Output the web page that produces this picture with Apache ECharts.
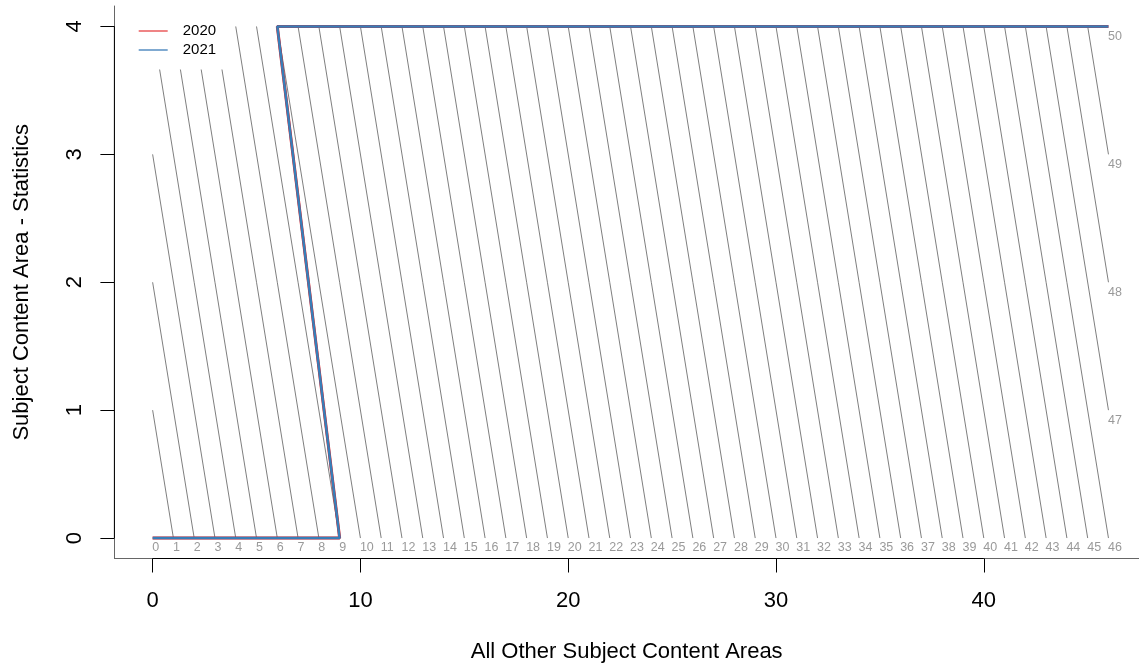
<!DOCTYPE html>
<html>
<head>
<meta charset="utf-8">
<script src="https://cdn.jsdelivr.net/npm/echarts@6/dist/echarts.min.js"></script>
<style>
html,body{margin:0;padding:0;background:#fff;}
#chart{width:1139px;height:668px;}
</style>
</head>
<body>
<div id="chart"></div>
<script>
// ---- data ----
const seriesNames = ['2020', '2021'];
const path2020X = [0, 9, 6, 46];
const path2020Y = [0, 0, 4, 4];
const path2021X = [0, 9, 6, 46];
const path2021Y = [0, 0, 4, 4];
// constant-total reference lines (x + y = total)
const isoTotals = [0,1,2,3,4,5,6,7,8,9,10,11,12,13,14,15,16,17,18,19,20,21,22,23,24,25,26,27,28,29,30,31,32,33,34,35,36,37,38,39,40,41,42,43,44,45,46,47,48,49,50];
const xLimits = [0, 46];
const yLimits = [0, 4];
const xTicks = [0, 10, 20, 30, 40];
const yTicks = [0, 1, 2, 3, 4];
const xTitle = 'All Other Subject Content Areas';
const yTitle = 'Subject Content Area - Statistics';

// ---- build ----
const FONT = "'Liberation Sans', Arial, Helvetica, sans-serif";
const xPad = (xLimits[1] - xLimits[0]) * 0.04;
const yPad = (yLimits[1] - yLimits[0]) * 0.04;
const xMin = xLimits[0] - xPad;
const xMax = xLimits[1] + 1.47;   // plot region runs past the page edge; cut at the page
const yMin = yLimits[0] - yPad, yMax = yLimits[1] + yPad;

const isoLines = [];
const isoLabels = [];
isoTotals.forEach(k => {
  const xa = Math.max(xLimits[0], k - yLimits[1]);
  const xb = Math.min(xLimits[1], k - yLimits[0]);
  const p0 = [xa, k - xa];
  const p1 = [xb, k - xb];
  if (k > 0) isoLines.push({coords: [p0, p1]});
  isoLabels.push([p1[0], p1[1], k]);
});

const zip = (xs, ys) => xs.map((x, i) => [x, ys[i]]);
const hiddenSymbol = {color: 'rgba(0,0,0,0)', borderColor: 'rgba(0,0,0,0)', borderWidth: 0, opacity: 0};

const chart = echarts.init(document.getElementById('chart'), null, {renderer: 'canvas'});
chart.setOption({
  animation: false,
  backgroundColor: '#ffffff',
  textStyle: {fontFamily: FONT},
  grid: {left: 114.4, top: 6, width: 1024.6, height: 552.5, containLabel: false},
  legend: {
    data: [
      {name: seriesNames[0], lineStyle: {color: '#E84F51', width: 1.4}, itemStyle: hiddenSymbol},
      {name: seriesNames[1], lineStyle: {color: '#4A86BE', width: 1.4}, itemStyle: hiddenSymbol}
    ],
    orient: 'vertical',
    left: 128, top: 15.5,
    padding: [8, 10, 12, 10],
    backgroundColor: '#ffffff',
    itemWidth: 29, itemHeight: 14, itemGap: 4,
    textStyle: {fontSize: 15, lineHeight: 15, color: '#000', fontFamily: FONT, padding: [0, 0, 0, 10]},
    selectedMode: false
  },
  xAxis: {
    type: 'value', min: xMin, max: xMax,
    axisLine: {show: true, onZero: false, lineStyle: {color: '#666', width: 1}},
    axisTick: {show: true, length: 14, customValues: xTicks, lineStyle: {color: '#000'}},
    axisLabel: {customValues: xTicks, fontSize: 22, color: '#000', margin: 31, fontFamily: FONT},
    splitLine: {show: false},
    name: xTitle, nameLocation: 'middle', nameGap: 82,
    nameTextStyle: {fontSize: 22, color: '#000', fontFamily: FONT}
  },
  yAxis: {
    type: 'value', min: yMin, max: yMax,
    axisLine: {show: true, onZero: false, lineStyle: {color: '#666', width: 1}},
    axisTick: {show: true, length: 14, customValues: yTicks, lineStyle: {color: '#000'}},
    axisLabel: {customValues: yTicks, fontSize: 22, color: '#000', margin: 28, rotate: 90, fontFamily: FONT},
    splitLine: {show: false},
    name: yTitle, nameLocation: 'middle', nameGap: 81, nameRotate: 90,
    nameTextStyle: {fontSize: 22, color: '#000', fontFamily: FONT}
  },
  series: [
    {
      type: 'lines', coordinateSystem: 'cartesian2d', silent: true, z: 1,
      lineStyle: {color: '#7F7F7F', width: 1, opacity: 1},
      data: isoLines
    },
    {
      type: 'scatter', silent: true, z: 1, symbolSize: 1,
      itemStyle: {color: 'rgba(0,0,0,0)'},
      label: {
        show: true, position: [0, 4], align: 'left', verticalAlign: 'top',
        fontSize: 12.5, color: '#7F7F7F', fontFamily: FONT,
        formatter: p => String(p.value[2])
      },
      data: isoLabels
    },
    {
      name: seriesNames[0], type: 'line', symbol: 'none', silent: true, z: 2,
      lineStyle: {color: '#E41A1C', width: 3}, itemStyle: {color: '#E41A1C'},
      data: zip(path2020X, path2020Y)
    },
    {
      name: seriesNames[1], type: 'line', symbol: 'none', silent: true, z: 3,
      lineStyle: {color: '#377EB8', width: 2.5}, itemStyle: {color: '#377EB8'},
      data: zip(path2021X, path2021Y)
    },
    {
      type: 'line', symbol: 'none', silent: true, clip: false, z: 5,
      lineStyle: {color: '#000', width: 1},
      data: [[xTicks[0], yMin], [xTicks[xTicks.length - 1], yMin]]
    },
    {
      type: 'line', symbol: 'none', silent: true, clip: false, z: 5,
      lineStyle: {color: '#000', width: 1},
      data: [[xMin, yTicks[0]], [xMin, yTicks[yTicks.length - 1]]]
    }
  ]
});
</script>
</body>
</html>
